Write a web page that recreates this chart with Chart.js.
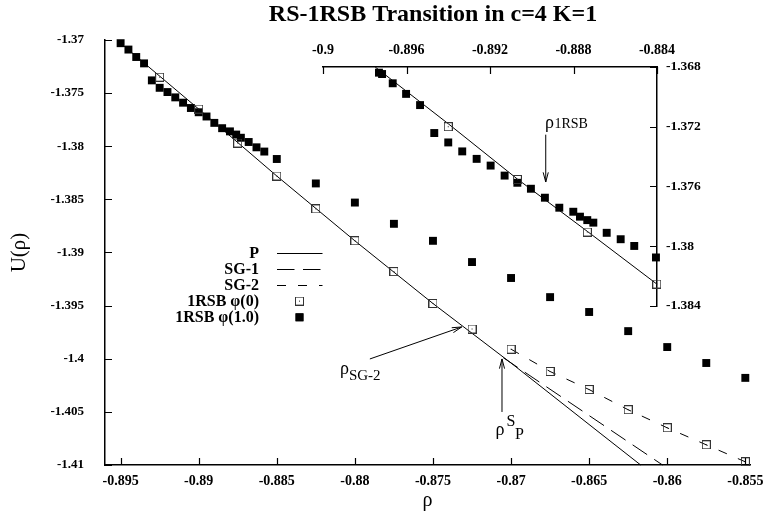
<!DOCTYPE html>
<html>
<head>
<meta charset="utf-8">
<script src="https://cdn.jsdelivr.net/npm/chart.js@4.4.0/dist/chart.umd.min.js"></script>
<style>
  html, body { margin: 0; padding: 0; background: #fff; }
  #wrap { position: relative; width: 765px; height: 516px; }
  #mainChart { position: absolute; left: 0; top: 0; }
  #insetChart { position: absolute; left: 298px; top: 30px; }
</style>
</head>
<body>
<div id="wrap">
  <canvas id="mainChart" width="765" height="516"></canvas>
  <canvas id="insetChart" width="435" height="290"></canvas>
</div>
<script>
// main panel
const rhoCoarse = [-0.8925, -0.89, -0.8875, -0.885, -0.8825, -0.88, -0.8775, -0.875,
    -0.8725, -0.87, -0.8675, -0.865, -0.8625, -0.86, -0.8575, -0.855];
const phi0U = [-1.3735, -1.3765, -1.3797, -1.3828, -1.3859, -1.3889, -1.3918, -1.3948,
    -1.3972, -1.3991, -1.4012, -1.4029, -1.4048, -1.4065, -1.4081, -1.4097];

const rhoFine = [-0.895, -0.8945, -0.894, -0.8935, -0.893, -0.8925, -0.892, -0.8915, -0.891,
    -0.8905, -0.89, -0.8895, -0.889, -0.8885, -0.888, -0.8876, -0.8873, -0.8868, -0.8863,
    -0.8858, -0.885, -0.8825, -0.88, -0.8775, -0.875, -0.8725, -0.87, -0.8675, -0.865,
    -0.8625, -0.86, -0.8575, -0.855];
const phi1U = [-1.3703, -1.3709, -1.3716, -1.3722, -1.3738, -1.3745, -1.3749, -1.3754, -1.3759,
    -1.3764, -1.3768, -1.3772, -1.3778, -1.3783, -1.3786, -1.3789, -1.3792, -1.3796, -1.3801,
    -1.3805, -1.3812, -1.3835, -1.3853, -1.3873, -1.3889, -1.3909, -1.3924, -1.3942, -1.3956,
    -1.3974, -1.3989, -1.4004, -1.4018];

const pRho = [-0.895, -0.89, -0.885, -0.88, -0.875, -0.87, -0.8643, -0.8617];
const pU = [-1.3703, -1.3765, -1.3828, -1.3889, -1.3948, -1.4004, -1.4070, -1.41];
const sg1Rho = [-0.8705, -0.8603];
const sg1U = [-1.3999, -1.41];
const sg2Rho = [-0.87, -0.8675, -0.865, -0.8625, -0.86, -0.8575, -0.855];
const sg2U = [-1.3991, -1.4012, -1.4029, -1.4048, -1.4065, -1.4081, -1.4097];

const xTicks = [-0.895, -0.89, -0.885, -0.88, -0.875, -0.87, -0.865, -0.86, -0.855];
const xTickLabels = ['-0.895', '-0.89', '-0.885', '-0.88', '-0.875', '-0.87', '-0.865', '-0.86', '-0.855'];
const yTicks = [-1.37, -1.375, -1.38, -1.385, -1.39, -1.395, -1.4, -1.405, -1.41];
const yTickLabels = ['-1.37', '-1.375', '-1.38', '-1.385', '-1.39', '-1.395', '-1.4', '-1.405', '-1.41'];

// inset panel
const insetRho1 = [-0.89732, -0.89717, -0.89666, -0.89602, -0.89535, -0.89467, -0.894, -0.89333,
    -0.89264, -0.89197, -0.8913, -0.89069, -0.89004, -0.88937, -0.88868, -0.88801, -0.88769,
    -0.88734, -0.88705, -0.88641, -0.88574, -0.88509, -0.88405];
const insetU1 = [-1.36838, -1.36847, -1.36909, -1.3698, -1.37055, -1.37242, -1.37305, -1.37365,
    -1.37415, -1.3746, -1.37527, -1.37575, -1.37615, -1.37675, -1.37742, -1.37769, -1.37802,
    -1.37825, -1.37842, -1.3791, -1.37953, -1.37998, -1.38075];
const insetRho0 = [-0.894, -0.89069, -0.88734, -0.88401];
const insetU0 = [-1.372, -1.37553, -1.37905, -1.38253];
const insetPRho = [-0.8975, -0.894, -0.89069, -0.88734, -0.88401];
const insetPU = [-1.368, -1.3718, -1.3755, -1.3790, -1.38253];

const insetXTicks = [-0.9, -0.896, -0.892, -0.888, -0.884];
const insetXTickLabels = ['-0.9', '-0.896', '-0.892', '-0.888', '-0.884'];
const insetYTicks = [-1.368, -1.372, -1.376, -1.38, -1.384];
const insetYTickLabels = ['-1.368', '-1.372', '-1.376', '-1.38', '-1.384'];

const SERIF = "'Liberation Serif', 'Times New Roman', serif";
Chart.defaults.font.family = SERIF;
Chart.defaults.color = '#000';

const toPoints = (xs, ys) => xs.map((x, i) => ({ x: x, y: ys[i] }));

// open square with a centre dot
function boxedDot(size) {
    const c = document.createElement('canvas');
    c.width = size;
    c.height = size;
    const g = c.getContext('2d');
    g.strokeStyle = '#333';
    g.lineWidth = 1;
    g.strokeRect(0.5, 0.5, size - 1, size - 1);
    g.fillStyle = '#222';
    g.fillRect(Math.floor(size / 2), Math.floor(size / 2), 1, 1);
    return c;
}
const openSquare = boxedDot(9);

const lineSet = (label, pts, dash) => ({
    label: label,
    data: pts,
    showLine: true,
    borderColor: '#000',
    borderWidth: 1,
    borderDash: dash,
    pointRadius: 0,
    order: 1,
    clip: false
});
const openSet = (pts) => ({
    label: '1RSB \u03c6(0)',
    data: pts,
    pointStyle: openSquare,
    pointRadius: 4.5,
    order: 0,
    clip: false
});
const filledSet = (pts) => ({
    label: '1RSB \u03c6(1.0)',
    data: pts,
    pointStyle: 'rect',
    pointRadius: 5.6,
    backgroundColor: '#000',
    borderWidth: 0,
    order: 0,
    clip: false
});

// gnuplot-like ticks pointing into the plot
const innerTicks = {
    id: 'innerTicks',
    afterDraw(chart) {
        const ctx = chart.ctx;
        const a = chart.chartArea;
        const len = 7;
        ctx.save();
        ctx.strokeStyle = '#000';
        ctx.lineWidth = 1.2;
        ctx.beginPath();
        Object.values(chart.scales).forEach(s => {
            s.ticks.forEach(t => {
                const p = Math.round(s.getPixelForValue(t.value)) + 0.5;
                if (s.position === 'bottom') { ctx.moveTo(p, a.bottom); ctx.lineTo(p, a.bottom - len); }
                if (s.position === 'top') { ctx.moveTo(p, a.top); ctx.lineTo(p, a.top + len); }
                if (s.position === 'left') { ctx.moveTo(a.left, p); ctx.lineTo(a.left + len, p); }
                if (s.position === 'right') { ctx.moveTo(a.right, p); ctx.lineTo(a.right - len, p); }
            });
        });
        ctx.stroke();
        ctx.restore();
    }
};

function drawArrow(ctx, x0, y0, x1, y1) {
    const ang = Math.atan2(y1 - y0, x1 - x0);
    const head = 10, spread = 0.26;
    ctx.beginPath();
    ctx.moveTo(x0, y0);
    ctx.lineTo(x1, y1);
    ctx.moveTo(x1 - head * Math.cos(ang - spread), y1 - head * Math.sin(ang - spread));
    ctx.lineTo(x1, y1);
    ctx.lineTo(x1 - head * Math.cos(ang + spread), y1 - head * Math.sin(ang + spread));
    ctx.stroke();
}

// arrows and rho labels, anchored in data units
const mainNotes = [
    { from: [-0.87904, -1.40002], to: [-0.87316, -1.39701], at: [-0.88096, -1.40144],
      parts: [['\u03c1', 18, 0, 0], ['SG-2', 15, 9, 6]] },
    { from: [-0.87058, -1.40501], to: [-0.87058, -1.40002], at: [-0.87099, -1.40718],
      parts: [['\u03c1', 18, 0, 0], ['S', 16, 11, -9.5], ['P', 16, 19.5, 4]] }
];
const insetNotes = [
    { from: [-0.88933, -1.37253], to: [-0.88933, -1.3757], at: [-0.88937, -1.37207],
      parts: [['\u03c1', 18, 0, 0], ['1RSB', 14, 9.5, 0.5]] }
];

const notesPlugin = (notes) => ({
    id: 'notes',
    afterDraw(chart) {
        const ctx = chart.ctx;
        const sx = chart.scales.x, sy = chart.scales.y;
        ctx.save();
        ctx.strokeStyle = '#000';
        ctx.fillStyle = '#000';
        ctx.lineWidth = 1;
        ctx.textBaseline = 'alphabetic';
        ctx.textAlign = 'left';
        notes.forEach(n => {
            drawArrow(ctx, sx.getPixelForValue(n.from[0]), sy.getPixelForValue(n.from[1]),
                sx.getPixelForValue(n.to[0]), sy.getPixelForValue(n.to[1]));
            const x = sx.getPixelForValue(n.at[0]);
            const y = sy.getPixelForValue(n.at[1]);
            n.parts.forEach(p => {
                ctx.font = p[1] + 'px ' + SERIF;
                ctx.fillText(p[0], x + p[2], y + p[3]);
            });
        });
        ctx.restore();
    }
});

// key in the lower-left of the main plot
const keyPlugin = {
    id: 'key',
    afterDatasetsDraw(chart) {
        const ctx = chart.ctx;
        const order = [0, 1, 2, 3, 4];
        ctx.save();
        ctx.font = 'bold 16px ' + SERIF;
        ctx.textAlign = 'right';
        ctx.textBaseline = 'middle';
        ctx.fillStyle = '#000';
        order.forEach((idx, i) => {
            const ds = chart.data.datasets[idx];
            const y = 252.5 + i * 16.2;
            ctx.fillText(ds.label, 259, y + 1);
            if (ds.showLine) {
                ctx.strokeStyle = '#000';
                ctx.lineWidth = 1;
                ctx.setLineDash(ds.borderDash || []);
                ctx.beginPath();
                ctx.moveTo(277, Math.round(y) + 0.5);
                ctx.lineTo(322.5, Math.round(y) + 0.5);
                ctx.stroke();
                ctx.setLineDash([]);
            } else {
                Chart.helpers.drawPoint(ctx, {
                    pointStyle: ds.pointStyle, radius: ds.pointRadius, rotation: 0,
                    borderWidth: 0
                }, 299.5, y);
                if (ds.pointStyle === 'rect') ctx.fill();
            }
        });
        ctx.restore();
    }
};

const titlePlugin = {
    id: 'plotTitle',
    afterDraw(chart) {
        const ctx = chart.ctx;
        ctx.save();
        ctx.font = 'bold 24px ' + SERIF;
        ctx.textAlign = 'center';
        ctx.textBaseline = 'alphabetic';
        ctx.fillStyle = '#000';
        ctx.fillText('RS-1RSB Transition in c=4 K=1', 433, 21);
        ctx.restore();
    }
};

const axisBorder = { display: true, color: '#000', width: 1.5 };
const noGrid = { display: false, drawTicks: false };

new Chart(document.getElementById('mainChart'), {
    type: 'scatter',
    data: {
        datasets: [
            lineSet('P', toPoints(pRho, pU), []),
            lineSet('SG-1', toPoints(sg1Rho, sg1U), [17.5, 8.5]),
            lineSet('SG-2', toPoints(sg2Rho, sg2U), [9, 12]),
            openSet(toPoints(rhoCoarse, phi0U)),
            filledSet(toPoints(rhoFine, phi1U))
        ]
    },
    options: {
        responsive: false,
        animation: false,
        devicePixelRatio: 1,
        events: [],
        layout: { padding: { top: 40, right: 15, bottom: 0, left: 0 } },
        plugins: { legend: { display: false }, tooltip: { enabled: false }, title: { display: false } },
        scales: {
            x: {
                type: 'linear',
                position: 'bottom',
                min: -0.896,
                max: -0.8547,
                grid: noGrid,
                border: axisBorder,
                afterBuildTicks: s => { s.ticks = xTicks.map(v => ({ value: v })); },
                afterFit: s => { s.height = 51; s.paddingLeft = 0; s.paddingRight = 0; },
                ticks: {
                    autoSkip: false, maxRotation: 0, padding: 8,
                    font: { size: 14, weight: 'bold' },
                    callback: (v, i) => xTickLabels[i]
                },
                title: { display: true, text: '\u03c1', font: { size: 20 }, padding: { top: 0, bottom: 3 } }
            },
            y: {
                type: 'linear',
                position: 'left',
                min: -1.41,
                max: -1.37,
                grid: noGrid,
                border: axisBorder,
                afterBuildTicks: s => { s.ticks = yTicks.map(v => ({ value: v })); },
                afterFit: s => { s.width = 105; s.paddingTop = 0; s.paddingBottom = 0; },
                ticks: {
                    autoSkip: false, padding: 21,
                    font: { size: 13, weight: 'bold' },
                    callback: (v, i) => yTickLabels[i]
                },
                title: { display: true, text: 'U(\u03c1)', font: { size: 21 }, padding: { top: 7, bottom: 0 } }
            }
        }
    },
    plugins: [innerTicks, keyPlugin, notesPlugin(mainNotes), titlePlugin]
});

new Chart(document.getElementById('insetChart'), {
    type: 'scatter',
    data: {
        datasets: [
            lineSet('P', toPoints(insetPRho, insetPU), []),
            openSet(toPoints(insetRho0, insetU0)),
            filledSet(toPoints(insetRho1, insetU1))
        ]
    },
    options: {
        responsive: false,
        animation: false,
        devicePixelRatio: 1,
        events: [],
        layout: { padding: { top: 0, right: 0, bottom: 14, left: 25 } },
        plugins: { legend: { display: false }, tooltip: { enabled: false }, title: { display: false } },
        scales: {
            x: {
                type: 'linear',
                position: 'top',
                min: -0.9,
                max: -0.884,
                grid: noGrid,
                border: axisBorder,
                afterBuildTicks: s => { s.ticks = insetXTicks.map(v => ({ value: v })); },
                afterFit: s => { s.height = 37; s.paddingLeft = 0; s.paddingRight = 0; },
                ticks: {
                    autoSkip: false, maxRotation: 0, padding: 8,
                    font: { size: 14, weight: 'bold' },
                    callback: (v, i) => insetXTickLabels[i]
                }
            },
            y: {
                type: 'linear',
                position: 'right',
                min: -1.384,
                max: -1.368,
                grid: noGrid,
                border: axisBorder,
                afterBuildTicks: s => { s.ticks = insetYTicks.map(v => ({ value: v })); },
                afterFit: s => { s.width = 76; s.paddingTop = 0; s.paddingBottom = 0; },
                ticks: {
                    autoSkip: false, padding: 9,
                    font: { size: 13.5, weight: 'bold' },
                    callback: (v, i) => insetYTickLabels[i]
                }
            }
        }
    },
    plugins: [innerTicks, notesPlugin(insetNotes)]
});
</script>
</body>
</html>
